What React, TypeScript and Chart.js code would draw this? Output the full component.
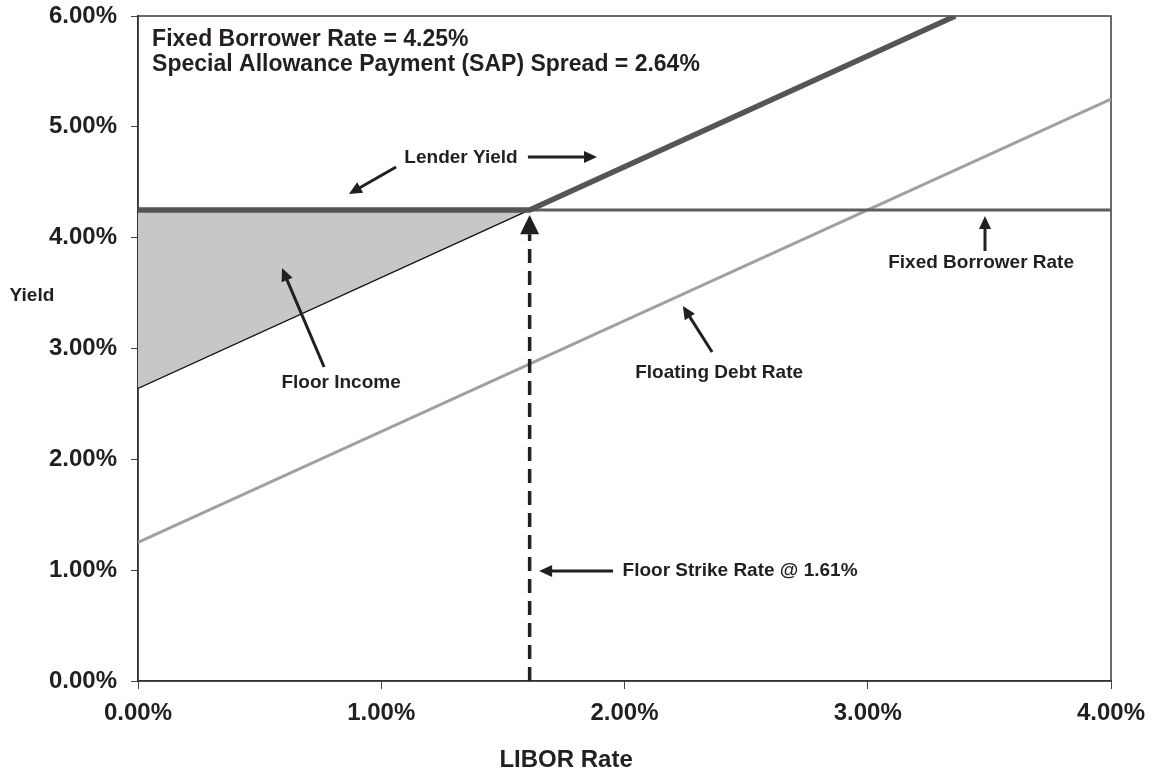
import React, { useEffect, useRef } from "react";
import { Chart, registerables } from "chart.js";

Chart.register(...registerables);

// ---- data (percent units) ----
const LIBOR_TICKS = [0, 1, 2, 3, 4];
const YIELD_TICKS = [0, 1, 2, 3, 4, 5, 6];

const FIXED_BORROWER_RATE = 4.25;
const SAP_SPREAD = 2.64;
const FLOOR_STRIKE = 1.61;

const lenderX = [0, 1.61, 3.36];
const lenderY = [4.25, 4.25, 6.0];

const fixedX = [0, 4];
const fixedY = [4.25, 4.25];

const floatingX = [0, 4];
const floatingY = [1.25, 5.25];

const sapX = [0, 1.61];
const sapY = [2.64, 4.25];

const strikeX = [1.61, 1.61];
const strikeY = [0, 4.03];

// ---- annotation layout (data coordinates) ----
const HEADER_LINES = [
  { text: "Fixed Borrower Rate = 4.25%", at: [0.058, 5.79] },
  { text: "Special Allowance Payment (SAP) Spread = 2.64%", at: [0.058, 5.565] },
];
const LABELS = [
  { text: "Lender Yield", at: [1.328, 4.719] },
  { text: "Floor Income", at: [0.835, 2.689] },
  { text: "Fixed Borrower Rate", at: [3.466, 3.772] },
  { text: "Floating Debt Rate", at: [2.389, 2.779] },
  { text: "Floor Strike Rate @ 1.61%", at: [2.475, 0.993] },
];
const ARROWS = [
  { from: [1.603, 4.728], to: [1.887, 4.728] },
  { from: [1.061, 4.638], to: [0.867, 4.394] },
  { from: [0.765, 2.833], to: [0.592, 3.726] },
  { from: [3.482, 3.88], to: [3.482, 4.196] },
  { from: [2.36, 2.968], to: [2.24, 3.384] },
  { from: [1.953, 0.993], to: [1.649, 0.993] },
];
const STRIKE_HEAD = { base: [1.61, 4.03], tip: [1.61, 4.205] };
const Y_TITLE = { text: "Yield", at: [-0.436, 3.474] };
const X_TITLE = { text: "LIBOR Rate", at: [1.76, -0.713] };

const FONT = '"Liberation Sans", Arial, Helvetica, sans-serif';
const INK = "#231f20";

const pts = (xs: number[], ys: number[]) => xs.map((x, i) => ({ x, y: ys[i] }));
const pct = (v: number | string) => Number(v).toFixed(2) + "%";

function drawArrow(
  ctx: CanvasRenderingContext2D,
  x1: number, y1: number, x2: number, y2: number,
  lw: number, headLen: number, headHalf: number
) {
  const a = Math.atan2(y2 - y1, x2 - x1);
  const bx = x2 - Math.cos(a) * headLen;
  const by = y2 - Math.sin(a) * headLen;
  ctx.save();
  ctx.strokeStyle = INK;
  ctx.fillStyle = INK;
  ctx.lineWidth = lw;
  ctx.lineCap = "butt";
  ctx.beginPath();
  ctx.moveTo(x1, y1);
  ctx.lineTo(bx + Math.cos(a) * 1, by + Math.sin(a) * 1);
  ctx.stroke();
  ctx.beginPath();
  ctx.moveTo(x2, y2);
  ctx.lineTo(bx + Math.cos(a + Math.PI / 2) * headHalf, by + Math.sin(a + Math.PI / 2) * headHalf);
  ctx.lineTo(bx - Math.cos(a + Math.PI / 2) * headHalf, by - Math.sin(a + Math.PI / 2) * headHalf);
  ctx.closePath();
  ctx.fill();
  ctx.restore();
}

const annotationPlugin = {
  id: "floorAnnotations",
  beforeDatasetsDraw(chart: any) {
    const { ctx, chartArea: ca } = chart;
    ctx.save();
    ctx.strokeStyle = "#3a3a3a";
    ctx.lineWidth = 1.5;
    ctx.strokeRect(ca.left, ca.top, ca.right - ca.left, ca.bottom - ca.top);
    ctx.restore();
  },
  afterDatasetsDraw(chart: any) {
    const { ctx } = chart;
    const xs = chart.scales.x;
    const ys = chart.scales.y;
    const px = (v: number) => xs.getPixelForValue(v);
    const py = (v: number) => ys.getPixelForValue(v);

    // strike arrowhead
    {
      const tx = px(STRIKE_HEAD.tip[0]);
      const ty = py(STRIKE_HEAD.tip[1]);
      const by = py(STRIKE_HEAD.base[1]);
      ctx.save();
      ctx.fillStyle = INK;
      ctx.beginPath();
      ctx.moveTo(tx, ty);
      ctx.lineTo(tx - 9.5, by);
      ctx.lineTo(tx + 9.5, by);
      ctx.closePath();
      ctx.fill();
      ctx.restore();
    }

    ARROWS.forEach((a) => {
      drawArrow(ctx, px(a.from[0]), py(a.from[1]), px(a.to[0]), py(a.to[1]), 3, 13, 6);
    });

    ctx.save();
    ctx.fillStyle = INK;
    ctx.textBaseline = "middle";
    ctx.font = `bold 19px ${FONT}`;
    ctx.textAlign = "center";
    LABELS.forEach((l) => ctx.fillText(l.text, px(l.at[0]), py(l.at[1])));
    ctx.font = `bold 23px ${FONT}`;
    ctx.textAlign = "left";
    HEADER_LINES.forEach((l) => ctx.fillText(l.text, px(l.at[0]), py(l.at[1])));
    ctx.restore();
  },
  afterDraw(chart: any) {
    const { ctx } = chart;
    const xs = chart.scales.x;
    const ys = chart.scales.y;
    ctx.save();
    ctx.fillStyle = INK;
    ctx.textBaseline = "middle";
    ctx.textAlign = "center";
    ctx.font = `bold 19px ${FONT}`;
    ctx.fillText(Y_TITLE.text, xs.getPixelForValue(Y_TITLE.at[0]), ys.getPixelForValue(Y_TITLE.at[1]));
    ctx.font = `bold 24px ${FONT}`;
    ctx.fillText(X_TITLE.text, xs.getPixelForValue(X_TITLE.at[0]), ys.getPixelForValue(X_TITLE.at[1]));
    ctx.restore();
  },
};

export default function App() {
  const canvasRef = useRef<HTMLCanvasElement | null>(null);

  useEffect(() => {
    if (!canvasRef.current) return;
    const tickFont = { family: FONT, size: 24, weight: "bold" as const };
    const chart = new Chart(canvasRef.current, {
      type: "line",
      data: {
        datasets: [
          {
            label: "Floor Strike Rate",
            data: pts(strikeX, strikeY),
            borderColor: INK,
            borderWidth: 3.5,
            borderDash: [14, 8],
            pointRadius: 0,
            fill: false,
          },
          {
            label: "Lender Yield",
            data: pts(lenderX, lenderY),
            borderColor: "#555557",
            borderWidth: 5.5,
            pointRadius: 0,
            fill: false,
          },
          {
            label: "Fixed Borrower Rate",
            data: pts(fixedX, fixedY),
            borderColor: "#5f5f61",
            borderWidth: 3,
            pointRadius: 0,
            fill: false,
          },
          {
            label: "SAP Spread + LIBOR",
            data: pts(sapX, sapY),
            borderColor: "#111111",
            borderWidth: 1.3,
            backgroundColor: "#c6c7c9",
            pointRadius: 0,
            fill: { value: FIXED_BORROWER_RATE },
          },
          {
            label: "Floating Debt Rate",
            data: pts(floatingX, floatingY),
            borderColor: "#a0a0a2",
            borderWidth: 3,
            pointRadius: 0,
            fill: false,
          },
        ],
      },
      options: {
        animation: false,
        responsive: false,
        layout: { padding: { left: 0, top: 16, right: 41, bottom: 0 } },
        plugins: { legend: { display: false }, tooltip: { enabled: false } },
        elements: { line: { tension: 0 } },
        scales: {
          x: {
            type: "linear",
            min: LIBOR_TICKS[0],
            max: LIBOR_TICKS[LIBOR_TICKS.length - 1],
            afterBuildTicks: (s: any) => {
              s.ticks = LIBOR_TICKS.map((v) => ({ value: v }));
            },
            ticks: {
              callback: (v: any) => pct(v),
              font: tickFont,
              color: INK,
              padding: 10,
              maxRotation: 0,
              autoSkip: false,
            },
            grid: { drawOnChartArea: false, drawTicks: true, tickLength: 8, color: "#444", lineWidth: 1 },
            border: { display: true, color: "#222", width: 1.5 },
            afterFit: (s: any) => {
              s.height = 88;
              s.paddingLeft = 0;
              s.paddingRight = 0;
            },
          },
          y: {
            type: "linear",
            min: YIELD_TICKS[0],
            max: YIELD_TICKS[YIELD_TICKS.length - 1],
            afterBuildTicks: (s: any) => {
              s.ticks = YIELD_TICKS.map((v) => ({ value: v }));
            },
            ticks: {
              callback: (v: any) => pct(v),
              font: tickFont,
              color: INK,
              padding: 14,
              autoSkip: false,
            },
            grid: { drawOnChartArea: false, drawTicks: true, tickLength: 7, color: "#444", lineWidth: 1 },
            border: { display: true, color: "#222", width: 1.5 },
            afterFit: (s: any) => {
              s.width = 138;
              s.paddingTop = 0;
              s.paddingBottom = 0;
            },
          },
        },
      },
      plugins: [annotationPlugin],
    } as any);
    return () => chart.destroy();
  }, []);

  return (
    <div style={{ position: "absolute", left: 0, top: 0, width: 1152, height: 769, background: "#fff" }}>
      <canvas ref={canvasRef} width={1152} height={769} style={{ display: "block", width: 1152, height: 769 }} />
    </div>
  );
}
